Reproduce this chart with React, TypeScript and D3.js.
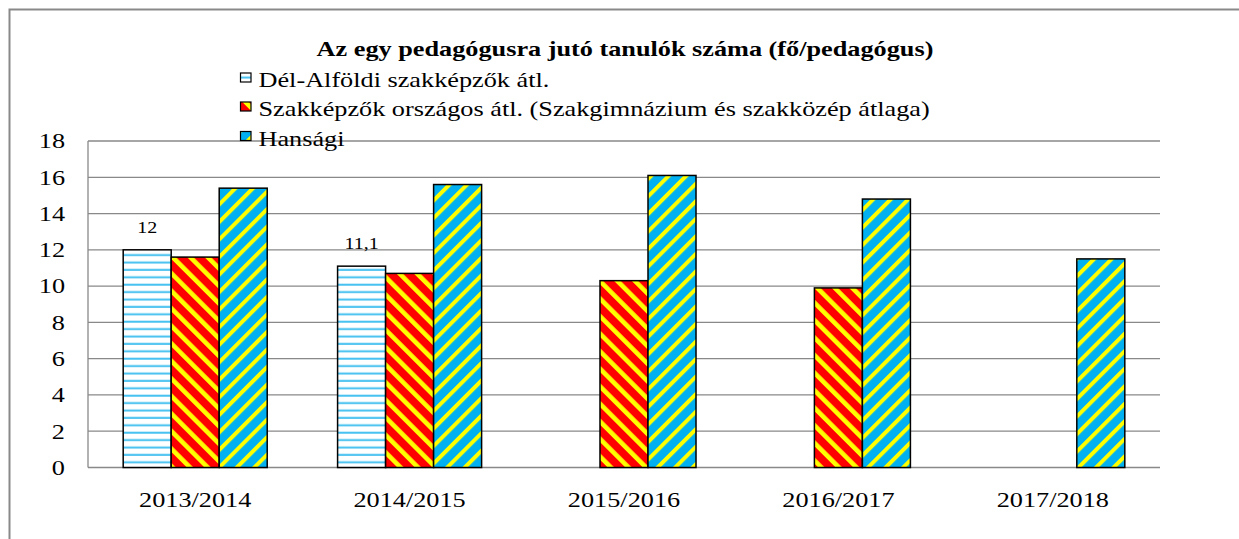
import * as d3 from 'd3';
import { useRef, useEffect } from 'react';

const categories = ['2013/2014', '2014/2015', '2015/2016', '2016/2017', '2017/2018'];
const seriesNames = [
  'Dél-Alföldi szakképzők átl.',
  'Szakképzők országos átl. (Szakgimnázium és szakközép átlaga)',
  'Hansági',
];
const delAlfoldi: (number | null)[] = [12, 11.1, null, null, null];
const orszagos: (number | null)[] = [11.6, 10.7, 10.3, 9.9, null];
const hansagi: (number | null)[] = [15.4, 15.6, 16.1, 14.8, 11.5];
const yTicks = [0, 2, 4, 6, 8, 10, 12, 14, 16, 18];
const titleText = 'Az egy pedagógusra jutó tanulók száma (fő/pedagógus)';

const W = 1239;
const H = 539;
const FONT = 'Liberation Serif, Times New Roman, serif';
const STRETCH = 1.25; // the original picture is stretched horizontally
const GRID = '#898989';

const App = () => {
  const svgRef = useRef<SVGSVGElement | null>(null);

  useEffect(() => {
    document.body.style.margin = '0';
    document.body.style.overflow = 'hidden';

    const svg = d3.select(svgRef.current);
    svg.selectAll('*').remove();

    const plot = { left: 88, right: 1160, top: 141, bottom: 467.5 };

    const x = d3.scaleBand().domain(categories).range([plot.left, plot.right]).padding(0);
    const inner = d3.scaleBand()
      .domain(seriesNames)
      .range([0, x.bandwidth()])
      .paddingInner(0)
      .paddingOuter(0.733);
    const y = d3.scaleLinear().domain([0, 18]).range([plot.bottom, plot.top]);

    const defs = svg.append('defs');

    // horizontal light blue lines on white
    const p1 = defs.append('pattern')
      .attr('id', 'pat-del')
      .attr('width', 8)
      .attr('height', 7.4)
      .attr('patternUnits', 'userSpaceOnUse');
    p1.append('rect').attr('width', 8).attr('height', 7.4).attr('fill', '#fff');
    p1.append('rect').attr('y', 2.5).attr('width', 8).attr('height', 2).attr('fill', '#45c1f1');

    // red with yellow "\" stripes
    const p2 = defs.append('pattern')
      .attr('id', 'pat-orsz')
      .attr('width', 12.4)
      .attr('height', 12.4)
      .attr('patternUnits', 'userSpaceOnUse')
      .attr('patternTransform', 'rotate(-45)');
    p2.append('rect').attr('width', 12.4).attr('height', 12.4).attr('fill', '#ff0000');
    p2.append('rect').attr('width', 4.6).attr('height', 12.4).attr('fill', '#ffff00');

    // blue with yellow "/" stripes
    const p3 = defs.append('pattern')
      .attr('id', 'pat-hans')
      .attr('width', 12.4)
      .attr('height', 12.4)
      .attr('patternUnits', 'userSpaceOnUse')
      .attr('patternTransform', 'rotate(45)');
    p3.append('rect').attr('width', 12.4).attr('height', 12.4).attr('fill', '#00b0f0');
    p3.append('rect').attr('width', 4).attr('height', 12.4).attr('fill', '#ffff00');

    const fills = ['url(#pat-del)', 'url(#pat-orsz)', 'url(#pat-hans)'];
    const values = [delAlfoldi, orszagos, hansagi];

    // outer frame (only top and left edges are inside the picture)
    svg.append('path')
      .attr('d', `M9.5,${H}V9.5H${W}`)
      .attr('fill', 'none')
      .attr('stroke', GRID)
      .attr('stroke-width', 2);

    const stretched = (g: d3.Selection<SVGGElement, unknown, null, undefined>, tx: number, ty: number) =>
      g.append('text')
        .attr('transform', `translate(${tx},${ty}) scale(${STRETCH},1)`)
        .attr('font-family', FONT);

    const root = svg.append('g');

    // grid lines
    root.append('g')
      .selectAll('line')
      .data(yTicks)
      .enter()
      .append('line')
      .attr('x1', plot.left)
      .attr('x2', plot.right)
      .attr('y1', (d) => y(d))
      .attr('y2', (d) => y(d))
      .attr('stroke', GRID)
      .attr('stroke-width', 1.3);

    // value axis line
    root.append('line')
      .attr('x1', plot.left).attr('x2', plot.left)
      .attr('y1', y(18)).attr('y2', y(0))
      .attr('stroke', GRID)
      .attr('stroke-width', 1.3);

    // y tick labels
    yTicks.forEach((t) => {
      stretched(root, 65, y(t))
        .attr('text-anchor', 'end')
        .attr('dy', '0.35em')
        .attr('font-size', 21)
        .text(String(t));
    });

    // bars
    values.forEach((vals, si) => {
      root.append('g')
        .selectAll('rect')
        .data(vals.map((v, i) => ({ v, c: categories[i] })).filter((d) => d.v !== null))
        .enter()
        .append('rect')
        .attr('x', (d) => x(d.c)! + inner(seriesNames[si])!)
        .attr('y', (d) => y(d.v as number))
        .attr('width', inner.bandwidth())
        .attr('height', (d) => y(0) - y(d.v as number))
        .attr('fill', fills[si])
        .attr('stroke', '#000')
        .attr('stroke-width', 1.5);
    });

    // data labels (first series only)
    delAlfoldi.forEach((v, i) => {
      if (v === null) return;
      const cx = x(categories[i])! + inner(seriesNames[0])! + inner.bandwidth() / 2;
      stretched(root, cx, y(v) - 17)
        .attr('text-anchor', 'middle')
        .attr('font-size', 16)
        .text(String(v).replace('.', ','));
    });

    // x labels
    categories.forEach((c) => {
      stretched(root, x(c)! + x.bandwidth() / 2, plot.bottom + 39.5)
        .attr('text-anchor', 'middle')
        .attr('font-size', 21)
        .text(c);
    });

    // title
    stretched(root, 625, 56)
      .attr('text-anchor', 'middle')
      .attr('font-size', 21)
      .attr('font-weight', 'bold')
      .text(titleText);

    // legend
    const legendY = [87, 116, 145.5];
    seriesNames.forEach((name, i) => {
      root.append('rect')
        .attr('x', 240.5)
        .attr('y', legendY[i] - 14)
        .attr('width', 10.5)
        .attr('height', 9)
        .attr('fill', fills[i])
        .attr('stroke', '#000')
        .attr('stroke-width', 1.2);
      stretched(root, 258.5, legendY[i])
        .attr('font-size', 21)
        .text(name);
    });
  }, []);

  return (
    <div style={{ width: W, height: H, background: '#fff' }}>
      <svg ref={svgRef} width={W} height={H} style={{ display: 'block' }} />
    </div>
  );
};

export default App;
